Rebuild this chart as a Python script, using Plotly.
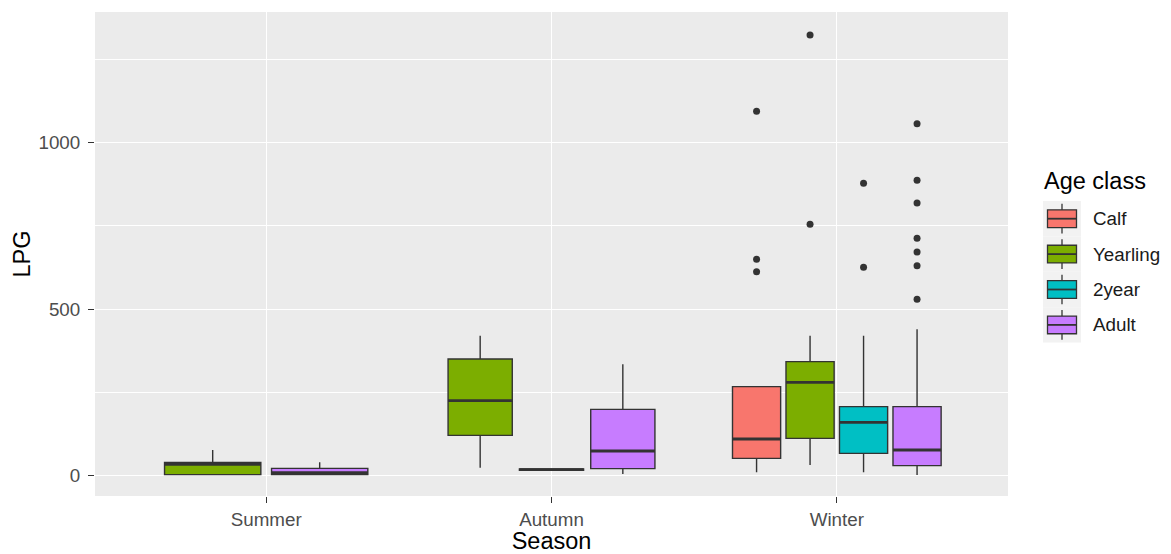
import plotly.graph_objects as go

# ---- data -------------------------------------------------------------
seasons = ["Summer", "Autumn", "Winter"]
age_classes = ["Calf", "Yearling", "2year", "Adult"]
age_colors = ["#F8766D", "#7CAE00", "#00BFC4", "#C77CFF"]

# five-number summaries, one entry per (season, age class) box
box_season = ["Summer", "Summer", "Autumn", "Autumn", "Autumn",
              "Winter", "Winter", "Winter", "Winter"]
box_age = ["Yearling", "Adult", "Yearling", "2year", "Adult",
           "Calf", "Yearling", "2year", "Adult"]
box_lower = [3, 2, 24, 16, 5, 10, 32, 10, 2]
box_q1 = [3, 3, 121, 16, 21, 52, 112, 67, 30]
box_median = [34, 9, 225, 18, 74, 110, 280, 160, 77]
box_q3 = [40, 22, 350, 20, 199, 267, 342, 207, 207]
box_upper = [77, 40, 420, 20, 334, 267, 420, 420, 439]

# outlying observations
out_season = ["Winter"] * 14
out_age = ["Calf", "Calf", "Calf",
           "Yearling", "Yearling",
           "2year", "2year",
           "Adult", "Adult", "Adult", "Adult", "Adult", "Adult", "Adult"]
out_value = [1093, 649, 612,
             1322, 754,
             877, 625,
             1056, 886, 818, 712, 671, 630, 529]

y_ticks = [0, 500, 1000]

# ---- figure geometry ---------------------------------------------------
W, H = 1171, 554
M_L, M_R, M_T, M_B = 95, 163, 12, 58
PW, PH = W - M_L - M_R, H - M_T - M_B

BOX_LINE = "#333333"
DODGE_WIDTH = 0.75
PADDING = 0.1
TICK_SIZE = 18.8
TITLE_SIZE = 23.5


def px_to_paper(px, py):
    return (px - M_L) / PW, (H - M_B - py) / PH


# dodge positions: boxes present in a season share the dodge width
positions = {}
for s_idx, s in enumerate(seasons, start=1):
    present = [a for a in age_classes
               if any(bs == s and ba == a for bs, ba in zip(box_season, box_age))]
    slot = DODGE_WIDTH / len(present)
    for k, a in enumerate(present):
        centre = s_idx - DODGE_WIDTH / 2 + slot * (k + 0.5)
        positions[(s, a)] = (centre, slot * (1 - PADDING))

fig = go.Figure()

for i in range(len(box_season)):
    s, a = box_season[i], box_age[i]
    x, w = positions[(s, a)]
    col = age_colors[age_classes.index(a)]
    fig.add_trace(go.Box(
        x=[x], q1=[box_q1[i]], median=[box_median[i]], q3=[box_q3[i]],
        lowerfence=[box_lower[i]], upperfence=[box_upper[i]],
        width=w, fillcolor=col, line=dict(color=BOX_LINE, width=1.4),
        whiskerwidth=0, boxpoints=False, showlegend=False, name=a,
        hoverinfo="skip",
    ))
    # heavier median bar
    fig.add_trace(go.Scatter(
        x=[x - w / 2, x + w / 2], y=[box_median[i], box_median[i]],
        mode="lines", line=dict(color=BOX_LINE, width=2.8),
        showlegend=False, hoverinfo="skip",
    ))

# outliers
fig.add_trace(go.Scatter(
    x=[positions[(s, a)][0] for s, a in zip(out_season, out_age)],
    y=out_value, mode="markers",
    marker=dict(color=BOX_LINE, size=7, line=dict(width=0)),
    showlegend=False, hoverinfo="skip",
))

# ---- legend (ggplot style keys) ----------------------------------------
shapes = []
annotations = []
key_left, key_right = 1043, 1081
key_top0, key_h = 201, 35.4
for k, (a, col) in enumerate(zip(age_classes, age_colors)):
    top = key_top0 + k * key_h
    bottom = top + key_h
    cx = (key_left + key_right) / 2
    x0, y0 = px_to_paper(key_left, bottom)
    x1, y1 = px_to_paper(key_right, top)
    shapes.append(dict(type="rect", xref="paper", yref="paper",
                       x0=x0, x1=x1, y0=y0, y1=y1,
                       fillcolor="#F2F2F2", line=dict(width=0), layer="above"))
    # whisker
    wx, wy0 = px_to_paper(cx, top + 0.08 * key_h)
    _, wy1 = px_to_paper(cx, top + 0.92 * key_h)
    shapes.append(dict(type="line", xref="paper", yref="paper",
                       x0=wx, x1=wx, y0=wy0, y1=wy1,
                       line=dict(color=BOX_LINE, width=1.3), layer="above"))
    # box
    bx0, by0 = px_to_paper(key_left + 4.5, top + 0.75 * key_h)
    bx1, by1 = px_to_paper(key_right - 4.5, top + 0.25 * key_h)
    shapes.append(dict(type="rect", xref="paper", yref="paper",
                       x0=bx0, x1=bx1, y0=by0, y1=by1,
                       fillcolor=col, line=dict(color=BOX_LINE, width=1.3),
                       layer="above"))
    # median
    _, my = px_to_paper(cx, top + 0.5 * key_h)
    shapes.append(dict(type="line", xref="paper", yref="paper",
                       x0=bx0, x1=bx1, y0=my, y1=my,
                       line=dict(color=BOX_LINE, width=1.8), layer="above"))
    lx, ly = px_to_paper(1091, top + 0.5 * key_h)
    annotations.append(dict(text=a, xref="paper", yref="paper", x=lx, y=ly,
                            xanchor="left", yanchor="middle", showarrow=False,
                            font=dict(size=TICK_SIZE, color="#1A1A1A")))

tx, ty = px_to_paper(1042, 181)
annotations.append(dict(text="Age class", xref="paper", yref="paper", x=tx, y=ty,
                        xanchor="left", yanchor="middle", showarrow=False,
                        font=dict(size=TITLE_SIZE, color="#000000")))

fig.update_layout(
    width=W, height=H,
    margin=dict(l=M_L, r=M_R, t=M_T, b=M_B, autoexpand=False),
    paper_bgcolor="white", plot_bgcolor="#EBEBEB",
    font=dict(family="Liberation Sans, Arial, sans-serif"),
    boxmode="overlay",
    shapes=shapes, annotations=annotations,
    showlegend=False,
)

fig.update_xaxes(
    range=[0.4, 3.6], tickmode="array",
    tickvals=list(range(1, len(seasons) + 1)), ticktext=seasons,
    showgrid=True, gridcolor="white", gridwidth=1.4, zeroline=False,
    ticks="outside", ticklen=6, tickwidth=1.3, tickcolor="#333333",
    tickfont=dict(size=TICK_SIZE, color="#4D4D4D"),
    title=dict(text="Season", font=dict(size=TITLE_SIZE, color="#000000"), standoff=7),
    showline=False, automargin=False,
)
fig.update_yaxes(
    range=[-61, 1391], tickmode="array", tickvals=y_ticks,
    showgrid=True, gridcolor="white", gridwidth=1.4, zeroline=False,
    minor=dict(tickmode="array", tickvals=[250, 750, 1250],
               showgrid=True, gridcolor="white", gridwidth=0.7, ticks=""),
    ticks="outside", ticklen=6, tickwidth=1.3, tickcolor="#333333",
    ticklabelstandoff=4,
    tickfont=dict(size=TICK_SIZE, color="#4D4D4D"),
    title=dict(text="LPG", font=dict(size=TITLE_SIZE, color="#000000"), standoff=1),
    showline=False, automargin=False,
)

fig.write_html("out.html")
